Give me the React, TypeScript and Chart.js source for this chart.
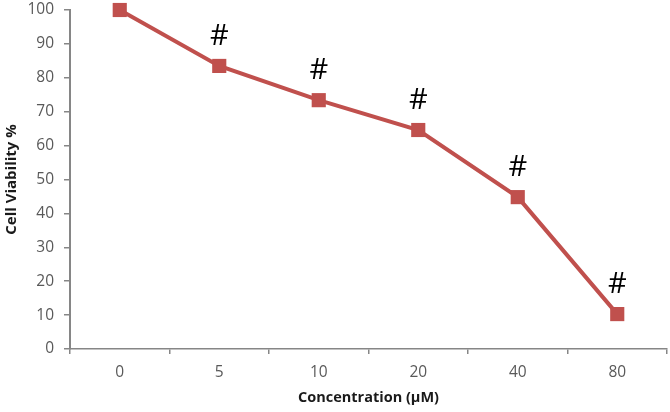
import React, { useEffect, useRef } from "react";
import { Chart, registerables } from "chart.js";

Chart.register(...registerables);

const concentrations = ["0", "5", "10", "20", "40", "80"];
const viability = [100, 83.5, 73.4, 64.6, 44.8, 10.3];
const significance = ["", "#", "#", "#", "#", "#"];
const yTitle = "Cell Viability %";
const xTitle = "Concentration (µM)";

const RED = "#c0504d";
const AXIS = "#868686";
const TICK_TEXT = "#595959";
const FONT = "'Open Sans', 'DejaVu Sans', sans-serif";

const markPlugin = {
  id: "sigMarks",
  afterDatasetsDraw(chart: any) {
    const meta = chart.getDatasetMeta(0);
    const ctx = chart.ctx;
    ctx.save();
    ctx.fillStyle = "#000000";
    ctx.font = `29px ${FONT}`;
    ctx.textAlign = "center";
    ctx.textBaseline = "middle";
    meta.data.forEach((pt: any, i: number) => {
      const s = significance[i];
      if (s) ctx.fillText(s, pt.x, pt.y - 29);
    });
    ctx.restore();
  },
};

export default function App() {
  const ref = useRef<HTMLCanvasElement | null>(null);
  useEffect(() => {
    document.body.style.margin = "0";
    const chart = new Chart(ref.current as HTMLCanvasElement, {
      type: "line",
      data: {
        labels: concentrations,
        datasets: [
          {
            data: viability,
            borderColor: RED,
            backgroundColor: RED,
            borderWidth: 4,
            pointStyle: "rect",
            pointRadius: 10,
            pointBorderWidth: 0,
            pointBackgroundColor: RED,
            tension: 0,
            clip: false,
          },
        ],
      },
      options: {
        animation: false,
        responsive: false,
        layout: { autoPadding: false, padding: { top: 10, right: 3, left: 0, bottom: 0 } },
        plugins: { legend: { display: false }, tooltip: { enabled: false } },
        scales: {
          x: {
            type: "category",
            offset: true,
            afterFit: (s: any) => {
              s.height = 63;
              s.paddingLeft = 0;
              s.paddingRight = 0;
            },
            grid: {
              offset: true,
              drawOnChartArea: false,
              drawTicks: true,
              tickLength: 5,
              color: AXIS,
              lineWidth: 1.5,
            },
            border: { display: true, color: AXIS, width: 1.5 },
            ticks: {
              color: TICK_TEXT,
              font: { family: FONT, size: 15.5 },
              padding: 9,
              maxRotation: 0,
            },
            title: {
              display: true,
              text: xTitle,
              color: "#1a1a1a",
              font: { family: FONT, size: 14.5, weight: "bold" },
              padding: { top: 0, bottom: 5 },
            },
          },
          y: {
            min: 0,
            max: 100,
            afterFit: (s: any) => {
              s.width = 70;
              s.paddingTop = 0;
              s.paddingBottom = 0;
            },
            grid: {
              drawOnChartArea: false,
              drawTicks: true,
              tickLength: 6,
              color: AXIS,
              lineWidth: 1.5,
            },
            border: { display: true, color: AXIS, width: 2 },
            ticks: {
              stepSize: 10,
              color: TICK_TEXT,
              font: { family: FONT, size: 15.5 },
              padding: 10,
            },
            title: {
              display: true,
              text: yTitle,
              color: "#1a1a1a",
              font: { family: FONT, size: 15, weight: "bold" },
              padding: { top: 3, bottom: 0 },
            },
          },
        },
      },
      plugins: [markPlugin],
    } as any);
    return () => chart.destroy();
  }, []);
  return (
    <div style={{ position: "absolute", left: 0, top: 0, width: 670, height: 412, background: "#fff" }}>
      <canvas ref={ref} width={670} height={412} />
    </div>
  );
}
